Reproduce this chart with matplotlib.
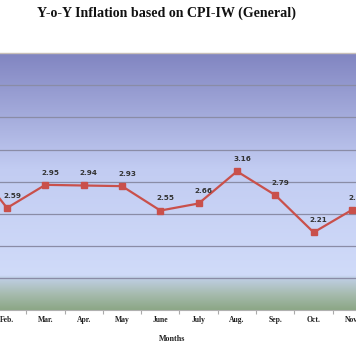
import numpy as np
import matplotlib
matplotlib.use("Agg")
import matplotlib.pyplot as plt
from matplotlib.colors import LinearSegmentedColormap

# Datos (Jan y Nov quedan en el borde del recorte)
meses = ['Jan.', 'Feb.', 'Mar.', 'Apr.', 'May', 'June', 'July', 'Aug.', 'Sep.', 'Oct.', 'Nov.']
inflacion = [3.35, 2.59, 2.95, 2.94, 2.93, 2.55, 2.66, 3.16, 2.79, 2.21, 2.56]
etiquetas = ['', '2.59', '2.95', '2.94', '2.93', '2.55', '2.66', '3.16', '2.79', '2.21', '2.56']
y_ticks = [1.0, 1.5, 2.0, 2.5, 3.0, 3.5, 4.0, 4.5, 5.0]

x = np.arange(len(meses))

fig = plt.figure(figsize=(3.56, 3.64), dpi=100)
ax = fig.add_axes([0, 0.148, 1, 0.706])

# Fondo degradado
cmap = LinearSegmentedColormap.from_list(
    'fondo', [(0.0, '#8185c1'), (0.45, '#c2ccf2'), (0.865, '#d0dbf9'),
              (0.875, '#c0cfe6'), (0.94, '#a6bbae'), (1.0, '#8ca786')])
grad = np.linspace(0, 1, 256).reshape(-1, 1)
ax.imshow(grad, aspect='auto', cmap=cmap, extent=[0, 1, 0, 1],
          transform=ax.transAxes, zorder=0)

for yt in y_ticks[1:-1]:
    ax.axhline(yt, color='#8a8ca6', lw=0.9, zorder=1)

ax.plot(x, inflacion, color='#c9504b', lw=1.6, marker='s', ms=4.2,
        markerfacecolor='#c9504b', markeredgecolor='#c9504b', zorder=3)

for xi, v, t in zip(x, inflacion, etiquetas):
    if t:
        ax.text(xi + 0.13, v + 0.19, t, ha='center', va='center',
                fontsize=5.2, fontweight='bold', color='#333333', zorder=4)

ax.set_yticks([])
ax.set_xticks(x)
ax.set_xticklabels(meses, fontsize=5.5, fontweight='bold', family='Liberation Serif', color='#222222')
ax.set_xticks(x[:-1] + 0.5, minor=True)
ax.tick_params(axis='x', which='major', length=0, pad=4)
ax.tick_params(axis='x', which='minor', length=3, color='#aaaaaa', width=0.8)
ax.set_xlim(0.817, 10.105)
ax.set_ylim(1.0, 5.0)

for s in ['left', 'right']:
    ax.spines[s].set_visible(False)
ax.spines['top'].set_color('#c8bfb8')
ax.spines['top'].set_linewidth(1.0)
ax.spines['bottom'].set_color('#b0b0b0')
ax.spines['bottom'].set_linewidth(0.8)

fig.text(0.469, 0.964, 'Y-o-Y Inflation based on CPI-IW (General)', ha='center', va='center',
         fontsize=10.1, fontweight='bold', family='Liberation Serif', color='#111111')
fig.text(0.483, 0.069, 'Months', ha='center', va='center',
         fontsize=5.8, fontweight='bold', family='Liberation Serif', color='#222222')

fig.savefig('out.png', dpi=100)
